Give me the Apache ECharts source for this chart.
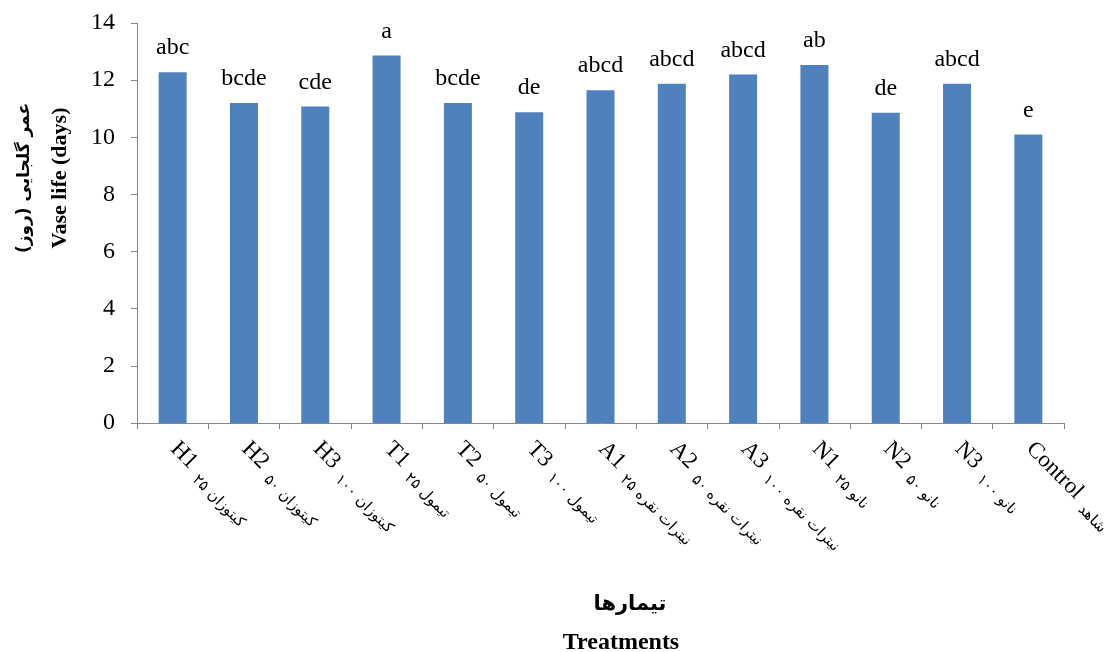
<!DOCTYPE html>
<html>
<head>
<meta charset="utf-8">
<script src="https://cdn.jsdelivr.net/npm/echarts@6/dist/echarts.min.js"></script>
<style>
html,body{margin:0;padding:0;background:#fff;}
#c{width:1105px;height:652px;}
</style>
</head>
<body>
<div id="c"></div>
<script>
var codes = ['H1','H2','H3','T1','T2','T3','A1','A2','A3','N1','N2','N3','Control'];
var persianNames = ['کیتوزان ۲۵','کیتوزان ۵۰','کیتوزان ۱۰۰','تیمول ۲۵','تیمول ۵۰','تیمول ۱۰۰','نیترات نقره ۲۵','نیترات نقره ۵۰','نیترات نقره ۱۰۰','نانو ۲۵','نانو ۵۰','نانو ۱۰۰','شاهد'];
var vaseLife = [12.28, 11.2, 11.08, 12.86, 11.2, 10.88, 11.65, 11.87, 12.2, 12.53, 10.86, 11.87, 10.1];
var letters = ['abc','bcde','cde','a','bcde','de','abcd','abcd','abcd','ab','de','abcd','e'];
var yTicks = {min: 0, max: 14, interval: 2};

var FONT = "'Liberation Serif','Times New Roman',serif";
var categories = codes.map(function(c, i){ return c + '|' + persianNames[i]; });

var chart = echarts.init(document.getElementById('c'), null, {renderer: 'canvas'});
chart.setOption({
  animation: false,
  backgroundColor: '#ffffff',
  grid: {left: 137, right: 41, top: 23, bottom: 229, containLabel: false, outerBoundsMode: 'none'},
  xAxis: {
    type: 'category',
    data: categories,
    boundaryGap: true,
    axisLine: {show: true, lineStyle: {color: '#868686', width: 1}},
    axisTick: {show: true, alignWithLabel: false, length: 6, lineStyle: {color: '#868686'}},
    axisLabel: {
      rotate: -45,
      interval: 0,
      margin: 24,
      color: '#000',
      formatter: function(v){
        var p = v.split('|');
        return '{a|' + p[0] + '}{s|}{b|' + p[1] + '}';
      },
      rich: {
        a: {fontFamily: FONT, fontSize: 23, color: '#000', verticalAlign: 'bottom', padding: [0, 0, 4, 0]},
        s: {width: 9},
        b: {fontFamily: "'DejaVu Sans',sans-serif", fontSize: 15, color: '#000', verticalAlign: 'bottom'}
      }
    }
  },
  yAxis: {
    type: 'value',
    min: yTicks.min,
    max: yTicks.max,
    interval: yTicks.interval,
    splitLine: {show: false},
    axisLine: {show: true, lineStyle: {color: '#868686', width: 1}},
    axisTick: {show: true, inside: false, length: 6, lineStyle: {color: '#868686'}},
    axisLabel: {color: '#000', fontFamily: FONT, fontSize: 24, margin: 22}
  },
  series: [{
    type: 'bar',
    data: vaseLife.map(function(v, i){ return {value: v, label: {formatter: letters[i]}}; }),
    barWidth: 28,
    itemStyle: {color: '#4F81BD'},
    label: {
      show: true,
      position: 'top',
      distance: 12,
      color: '#000',
      fontFamily: FONT,
      fontSize: 24
    }
  }],
  graphic: [
    {type: 'text', x: 25, y: 178, rotation: Math.PI/2,
     style: {text: 'عمر گلجایی (روز)', font: "bold 17px 'DejaVu Sans',sans-serif", fill: '#000', textAlign: 'center', textVerticalAlign: 'middle'}},
    {type: 'text', x: 60, y: 178, rotation: Math.PI/2,
     style: {text: 'Vase life (days)', font: "bold 22px 'Liberation Serif','Times New Roman',serif", fill: '#000', textAlign: 'center', textVerticalAlign: 'middle'}},
    {type: 'text', x: 630, y: 605,
     style: {text: 'تیمارها', font: "bold 21px 'DejaVu Sans',sans-serif", fill: '#000', textAlign: 'center', textVerticalAlign: 'middle'}},
    {type: 'text', x: 621, y: 643,
     style: {text: 'Treatments', font: "bold 24px 'Liberation Serif','Times New Roman',serif", fill: '#000', textAlign: 'center', textVerticalAlign: 'middle'}}
  ]
});
</script>
</body>
</html>
